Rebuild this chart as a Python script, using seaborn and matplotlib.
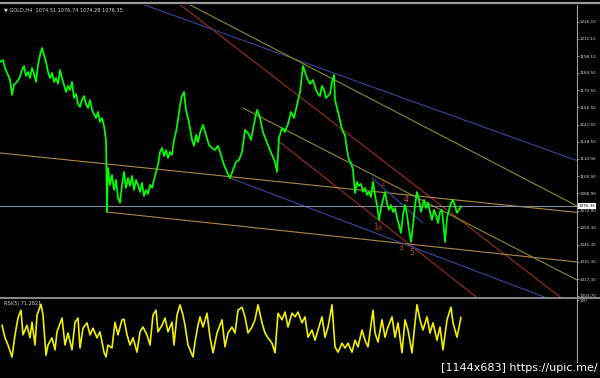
import matplotlib
matplotlib.use("Agg")
import matplotlib.pyplot as plt
import seaborn as sns
import pandas as pd
from matplotlib.lines import Line2D

# ---------------- data ----------------
bars = [0, 3, 5, 8, 10, 12, 14, 17, 20, 22, 24, 26, 28, 30, 32, 34, 36, 38, 40, 42,
        44, 46, 48, 50, 52, 54, 56, 58, 60, 62, 64, 66, 68, 70, 72, 74, 76, 78, 80, 82,
        84, 86, 88, 90, 92, 94, 96, 98, 100, 102, 104, 106, 107, 108, 110, 112, 114, 116, 118, 120,
        122, 124, 126, 128, 130, 132, 134, 136, 138, 140, 142, 144, 146, 148, 150, 152, 154, 156, 158, 160,
        162, 164, 166, 168, 170, 172, 174, 176, 178, 180, 182, 184, 186, 188, 190, 192, 194, 196, 198, 200,
        203, 206, 209, 212, 215, 218, 221, 224, 227, 230, 233, 236, 239, 242, 245, 248, 251, 254, 257, 260,
        263, 266, 269, 272, 275, 277, 279, 282, 285, 288, 291, 294, 297, 300, 303, 305, 307, 310, 313, 316,
        318, 320, 322, 324, 326, 328, 330, 332, 334, 335, 337, 339, 341, 343, 345, 347, 349, 351, 353, 355,
        357, 359, 361, 363, 365, 367, 369, 371, 373, 375, 377, 379, 381, 383, 385, 387, 389, 391, 393, 395,
        397, 399, 401, 403, 405, 407, 409, 411, 413, 415, 417, 419, 421, 424, 426, 428, 430, 432, 434, 436,
        438, 440, 442, 444, 445, 447, 449, 451, 453, 455, 457, 459, 461]
close = [1193.4, 1195.0, 1188.6, 1182.9, 1178.8, 1166.7, 1174.8, 1177.2, 1181.3, 1186.9,
         1190.2, 1182.1, 1185.3, 1180.4, 1188.6, 1183.7, 1177.2, 1191.0, 1199.1, 1204.8,
         1199.1, 1193.4, 1185.3, 1180.4, 1184.5, 1177.2, 1180.4, 1175.6, 1186.9, 1180.4,
         1174.8, 1169.1, 1174.0, 1170.7, 1177.2, 1164.2, 1167.5, 1159.4, 1156.9, 1162.6,
         1165.8, 1159.4, 1156.1, 1162.6, 1154.5, 1151.2, 1148.0, 1152.9, 1144.8, 1148.0,
         1141.5, 1130.2, 1071.8, 1107.5, 1093.7, 1101.8, 1089.6, 1097.7, 1083.1, 1079.1,
         1093.7, 1104.2, 1091.2, 1099.3, 1092.9, 1101.0, 1089.6, 1097.7, 1093.7, 1088.0,
         1095.3, 1084.7, 1089.6, 1086.4, 1093.7, 1091.2, 1097.7, 1104.2, 1109.9, 1120.4,
         1123.7, 1117.2, 1122.0, 1115.6, 1120.4, 1118.0, 1130.2, 1136.6, 1146.4, 1158.5,
         1165.8, 1169.1, 1154.5, 1148.0, 1139.9, 1130.2, 1125.3, 1134.2, 1128.5, 1135.8,
         1142.3, 1134.2, 1126.1, 1123.7, 1122.0, 1125.3, 1118.0, 1109.9, 1104.2, 1099.3,
         1105.8, 1112.3, 1113.9, 1120.4, 1138.3, 1135.8, 1130.2, 1143.1, 1154.5, 1148.0,
         1136.6, 1130.2, 1123.7, 1118.0, 1112.3, 1104.2, 1131.8, 1139.9, 1136.6, 1143.1,
         1152.9, 1148.0, 1158.5, 1169.1, 1190.2, 1185.3, 1180.4, 1175.6, 1178.8, 1170.7,
         1167.5, 1165.8, 1174.0, 1170.7, 1164.2, 1165.8, 1167.5, 1177.2, 1182.9, 1162.6,
         1156.1, 1149.6, 1142.3, 1136.6, 1134.2, 1122.0, 1113.9, 1111.5, 1105.8, 1087.2,
         1096.1, 1092.9, 1094.5, 1088.0, 1091.2, 1085.6, 1088.0, 1083.9, 1096.1, 1085.6,
         1077.4, 1065.3, 1075.0, 1081.5, 1088.0, 1079.1, 1073.4, 1077.4, 1071.8, 1075.0,
         1066.9, 1061.2, 1054.7, 1069.3, 1077.4, 1069.3, 1057.2, 1047.4, 1061.2, 1077.4,
         1088.0, 1081.5, 1071.8, 1081.5, 1075.0, 1079.1, 1071.8, 1065.3, 1073.4, 1069.3,
         1062.8, 1071.8, 1073.4, 1057.2, 1047.4, 1066.9, 1073.4, 1079.1, 1081.5, 1076.6,
         1071.0, 1073.4, 1076.35]

rsi_bars = [2, 5, 8, 12, 15, 18, 21, 23, 27, 30, 32, 35, 37, 41, 43, 46, 48, 52, 55, 57,
            62, 65, 68, 72, 75, 78, 80, 83, 87, 90, 93, 97, 100, 104, 106, 108, 112, 115, 118, 122,
            124, 127, 130, 133, 137, 140, 143, 147, 150, 153, 156, 158, 162, 165, 168, 172, 174, 177, 180, 183,
            185, 188, 193, 195, 198, 200, 203, 207, 210, 213, 217, 222, 225, 228, 232, 235, 238, 242, 245, 248,
            252, 255, 258, 262, 265, 268, 272, 275, 278, 282, 285, 288, 292, 295, 298, 302, 305, 308, 312, 315,
            318, 322, 325, 328, 332, 335, 338, 342, 345, 348, 352, 355, 358, 362, 365, 368, 373, 375, 378, 382,
            385, 388, 392, 395, 398, 402, 405, 408, 412, 415, 417, 420, 423, 427, 430, 433, 437, 440, 443, 447,
            451, 453, 457, 461]
rsi_vals = [58, 37, 25, 5, 42, 70, 83, 42, 58, 37, 63, 25, 75, 93, 75, 8, 25, 37, 17, 47,
            70, 25, 45, 17, 63, 70, 20, 53, 62, 42, 53, 37, 47, 13, 5, 25, 20, 63, 42, 67,
            68, 42, 25, 37, 13, 47, 55, 42, 25, 75, 83, 47, 58, 70, 47, 63, 25, 75, 92, 75,
            58, 25, 5, 30, 58, 72, 55, 78, 38, 12, 45, 67, 22, 45, 55, 45, 83, 88, 72, 45,
            55, 67, 92, 62, 45, 37, 28, 12, 78, 67, 80, 55, 78, 72, 80, 62, 72, 38, 50, 33,
            50, 72, 38, 55, 92, 22, 13, 28, 20, 28, 13, 33, 22, 50, 33, 22, 83, 45, 30, 67,
            38, 55, 72, 38, 62, 12, 67, 50, 12, 62, 92, 67, 50, 72, 45, 62, 33, 55, 17, 67,
            88, 62, 38, 71.28]

price_ticks = [1226.10, 1212.10, 1198.10, 1184.50, 1170.50, 1156.50, 1142.50, 1128.50,
               1114.90, 1100.90, 1086.90, 1072.90, 1059.30, 1045.30, 1031.30, 1017.30, 1003.70]
current_price = 1076.35
header = "\u25bc GOLD,H4  1074.51 1076.74 1074.28 1076.35"
rsi_title = "RSI(5) 71.2821"
watermark = "[1144x683] https://upic.me/"

# trend lines: start bar, start price, end bar, end price
line_bar0 = [130, 181, 174, 243, 277, 0, 106, 230, 372, 0]
line_p0 = [1243.9, 1243.5, 1243.7, 1156.1, 1130.2, 1119.6, 1071.8, 1099.3, 1099.3, 1076.35]
line_bar1 = [577, 577, 577, 577, 490, 577, 577, 560, 423, 577]
line_p1 = [1113.4, 1076.6, 992.3, 1016.6, 994.0, 1071.4, 1031.2, 998.0, 1062.8, 1076.35]
line_kind = ["blue", "olive", "red", "olive", "red", "tan", "tan", "blue", "blue", "grey"]

# wave labels
wave_text = ["2", "4", "1x", "3", "5"]
wave_bar = [383, 406, 378, 401, 412]
wave_price = [1094.5, 1081.5, 1058.8, 1042.6, 1038.5]

# ---------------- styling ----------------
palette = {"blue": "#3848a0", "olive": "#8c8c2c", "red": "#a03020",
           "tan": "#b08a40", "grey": "#7f8fa0"}
wave_colors = ["#c0321e", "#c8642c", "#b83a22", "#c04a24", "#c04a24"]

sns.set_theme(style="dark", rc={"axes.facecolor": "black", "figure.facecolor": "black",
                                "axes.grid": False})
plt.rcParams["font.family"] = ["DejaVu Sans"]

W, H = 600, 378
fig = plt.figure(figsize=(W / 100, H / 100), dpi=100)
fig.patch.set_facecolor("black")

def px_to_fig(x0, y0, x1, y1):
    return [x0 / W, 1 - y1 / H, (x1 - x0) / W, (y1 - y0) / H]

ax = fig.add_axes(px_to_fig(0, 5, 577, 297))
axr = fig.add_axes(px_to_fig(0, 299, 577, 362))

for a in (ax, axr):
    a.set_facecolor("black")
    for s in ("top", "left", "bottom"):
        a.spines[s].set_visible(False)
    a.spines["right"].set_color("#a0a0a0")
    a.spines["right"].set_linewidth(0.8)
    a.set_xlim(0, 577)
    a.set_xticks([])
    a.yaxis.tick_right()
    a.tick_params(axis="y", length=1.5, width=0.6, color="#a0a0a0", labelsize=3.0,
                  labelcolor="#dcdcdc", pad=0.6)
    a.set_xlabel("")
    a.set_ylabel("")

# trend lines
for b0, p0, b1, p1, k in zip(line_bar0, line_p0, line_bar1, line_p1, line_kind):
    seg = pd.DataFrame({"bar": [b0, b1], "price": [p0, p1]})
    sns.lineplot(data=seg, x="bar", y="price", ax=ax, color=palette[k],
                 linewidth=0.8, estimator=None, sort=False)

# price line
df = pd.DataFrame({"bar": bars, "close": close})
sns.lineplot(data=df, x="bar", y="close", ax=ax, color="#00ff00", linewidth=1.25,
             estimator=None, sort=False)

ax.set_ylim(1002.8, 1239.6)
ax.set_xlim(0, 577)
ax.set_yticks(price_ticks)
ax.set_yticklabels([f"{t:.2f}" for t in price_ticks])
ax.set_xlabel("")
ax.set_ylabel("")

for t, b, p, c in zip(wave_text, wave_bar, wave_price, wave_colors):
    ax.text(b, p, t, color=c, fontsize=5.5, ha="center", va="center")

ax.text(1.003, current_price, f"{current_price:.2f}", transform=ax.get_yaxis_transform(),
        ha="left", va="center", fontsize=3.0, color="black",
        bbox=dict(boxstyle="square,pad=0.2", fc="white", ec="none"))

# RSI
dr = pd.DataFrame({"bar": rsi_bars, "rsi": rsi_vals})
sns.lineplot(data=dr, x="bar", y="rsi", ax=axr, color="#f0f000", linewidth=1.2,
             estimator=None, sort=False)
axr.set_ylim(-3.3, 101.7)
axr.set_xlim(0, 577)
axr.set_yticks([100])
axr.set_yticklabels(["100"])
axr.set_xlabel("")
axr.set_ylabel("")

# frame lines
fig.add_artist(Line2D([0, 1], [1 - 3 / H, 1 - 3 / H], color="#9a9a9a", linewidth=1.6,
                      transform=fig.transFigure))
fig.add_artist(Line2D([0, 1], [1 - 298 / H, 1 - 298 / H], color="#8a8a8a", linewidth=1.4,
                      transform=fig.transFigure))

fig.text(4 / W, 1 - 10 / H, header, fontsize=3.6, color="#d8d8d8", va="center", ha="left")
fig.text(4 / W, 1 - 304 / H, rsi_title, fontsize=3.6, color="#d8d8d8", va="center", ha="left")
fig.text(598 / W, 1 - 368 / H, watermark, fontsize=8, color="white", va="center", ha="right")

fig.savefig("out.png", dpi=100, facecolor="black")
